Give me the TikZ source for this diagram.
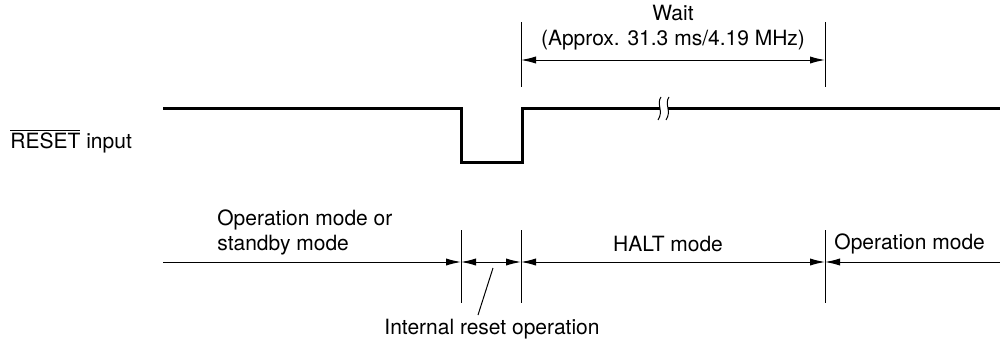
\documentclass[tikz,border=0pt]{standalone}
\usepackage{fontspec}
\setmainfont{TeX Gyre Heros}
\usetikzlibrary{arrows.meta,positioning,calc}

\begin{document}
\begin{tikzpicture}[x=0.5pt,y=-0.5pt,
    font=\fontsize{10.5}{12.5}\selectfont,
    signal/.style={line width=1.5pt},
    marker/.style={line width=0.5pt},
    span/.style={line width=0.5pt, {Latex[length=7.5pt,width=3.6pt]}-{Latex[length=7.5pt,width=3.6pt]}},
    endspan/.style={line width=0.5pt, -{Latex[length=7.5pt,width=3.6pt]}},
    lbl/.style={inner sep=0pt, align=center}]
    \useasboundingbox (0,0) rectangle (1000,343);

    % Signal
    \node[lbl, anchor=west] (reset) at (10,141) {$\overline{\mbox{RESET}}$ input};
    \draw[signal] (163,108) -- (461,108) -- (461,162) -- (522,162) -- (522,108) -- (660,108);
    \draw[signal] (668,108) -- (1000,108);
    \foreach \dx in {0,8}
        \draw[marker] (661+\dx,97) .. controls (656+\dx,104) and (664+\dx,111) .. (658+\dx,120);

    % Wait
    \coordinate (w_a) at (521,22);
    \coordinate (w_b) at (825,22);
    \draw[marker] (w_a) -- ++(0,65);
    \draw[marker] (w_b) -- ++(0,65);
    \draw[span] ($(w_a)+(0,38)$) -- ($(w_b)+(0,38)$);
    \node[lbl] (wait) at (673,28) {Wait\\(Approx. 31.3 ms/4.19 MHz)};

    % Mode markers
    \coordinate (m_l) at (163,262);
    \coordinate (m1) at (461,262);
    \coordinate (m2) at (521,262);
    \coordinate (m3) at (825,262);
    \coordinate (m_r) at (1000,262);
    \foreach \m in {m1,m2,m3}
        \draw[marker] ($(\m)+(0,-32)$) -- ($(\m)+(0,41)$);

    \draw[endspan] (m_l) -- (m1);
    \draw[span] (m1) -- (m2);
    \draw[span] (m2) -- (m3);
    \draw[endspan] (m_r) -- (m3);

    % Labels
    \node[lbl, anchor=west, align=left] (opmode_l) at (217,232) {Operation mode or\\standby mode};
    \node[lbl] (halt) at (668,244) {HALT mode};
    \node[lbl, anchor=west] (opmode_r) at (834,244) {Operation mode};
    \node[lbl] (intreset) at (492,329) {Internal reset operation};
    \coordinate (ldr) at (493,268);
    \draw[marker] (ldr) -- (478,315);
\end{tikzpicture}
\end{document}
